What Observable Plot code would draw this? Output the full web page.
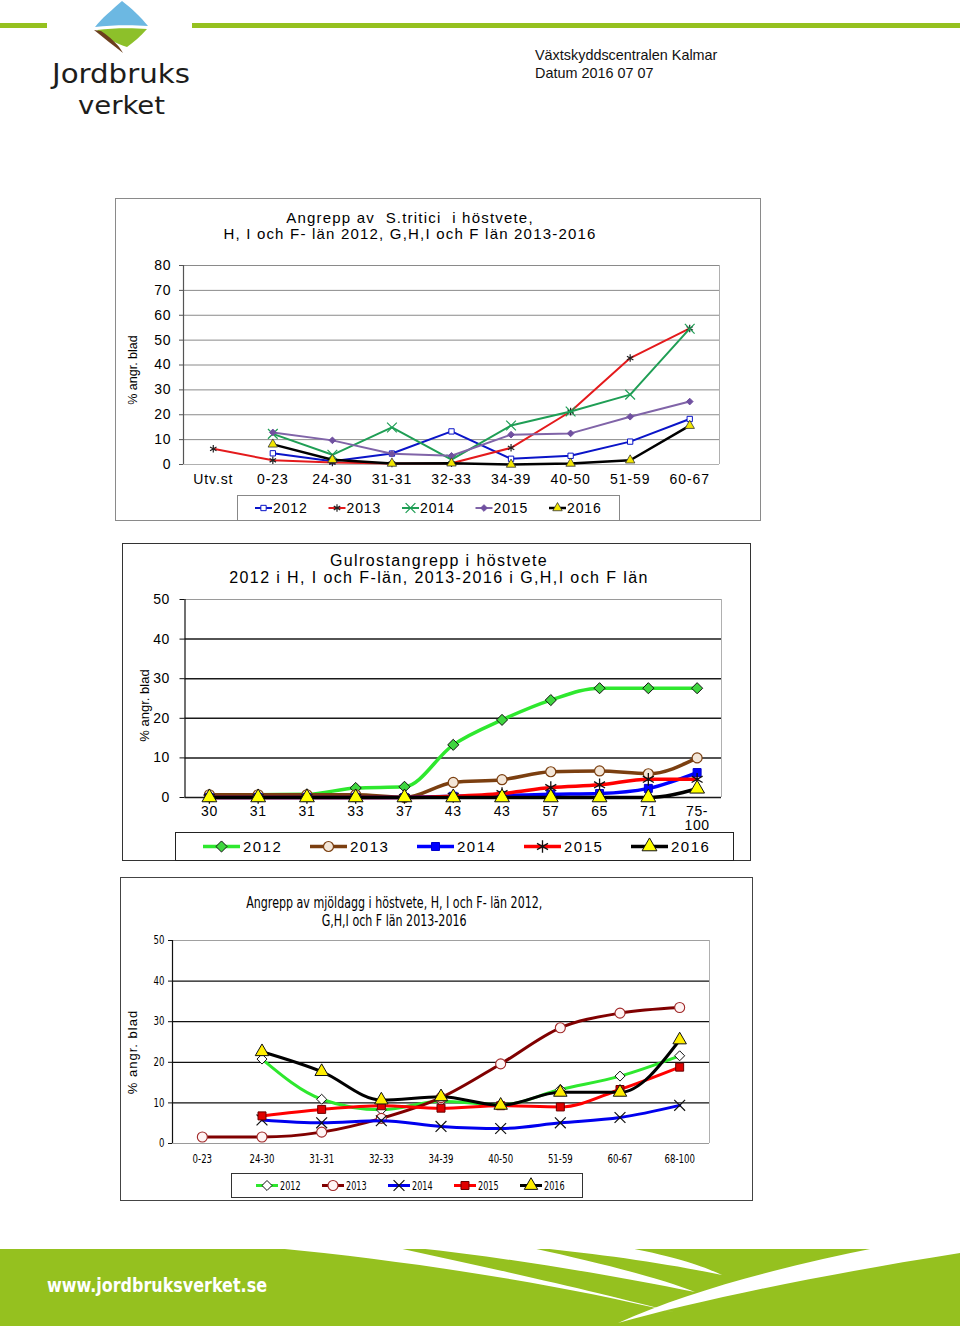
<!DOCTYPE html>
<html><head><meta charset="utf-8">
<script src="https://cdn.jsdelivr.net/npm/d3@7"></script>
<script src="https://cdn.jsdelivr.net/npm/@observablehq/plot@0.6"></script>
<style>
html,body{margin:0;padding:0;background:#fff;}
body{width:960px;height:1326px;position:relative;overflow:hidden;font-family:"Liberation Sans",Arial,sans-serif;color:#000;}
.abs{position:absolute;}
svg{overflow:visible;}
</style></head><body>
<script>
// ---------------- DATA ----------------
const years = ["2012", "2013", "2014", "2015", "2016"];

// Chart 1: Angrepp av S.tritici i höstvete
const septoriaStages = ["Utv.st", "0-23", "24-30", "31-31", "32-33", "34-39", "40-50", "51-59", "60-67"];
const septoria2012 = [null, 4.5, 1.3, 4.4, 13.3, 2.3, 3.5, 9.2, 18.3];
const septoria2013 = [6.3, 1.7, 0.8, 0.4, 0.5, 6.7, 21.3, 42.8, 54.7];
const septoria2014 = [null, 12.3, 3.9, 14.9, 2.0, 15.7, 21.3, 28.1, 54.6];
const septoria2015 = [null, 12.9, 9.7, 4.3, 3.5, 12.0, 12.5, 19.2, 25.3];
const septoria2016 = [null, 8.1, 1.9, 0.4, 0.5, 0.0, 0.4, 1.7, 15.6];

// Chart 2: Gulrostangrepp i höstvete
const rustStages = ["30", "31", "31", "33", "37", "43", "43", "57", "65", "71", "75-\n100"];
const rust2012 = [0.6, 0.7, 0.8, 2.4, 2.7, 13.3, 19.6, 24.6, 27.6, 27.6, 27.6];
const rust2013 = [0.7, 0.7, 0.7, 0.7, 0.0, 3.8, 4.5, 6.5, 6.7, 6.0, 10.0];
const rust2014 = [0.0, 0.0, 0.0, 0.0, 0.0, 0.3, 0.5, 0.8, 1.0, 2.3, 6.3];
const rust2015 = [0.0, 0.0, 0.0, 0.0, 0.0, 0.3, 1.0, 2.5, 3.2, 4.6, 4.6];
const rust2016 = [0.0, 0.0, 0.0, 0.0, 0.0, 0.0, 0.0, 0.0, 0.0, 0.0, 2.2];

// Chart 3: Angrepp av mjöldagg i höstvete
const mildewStages = ["0-23", "24-30", "31-31", "32-33", "34-39", "40-50", "51-59", "60-67", "68-100"];
const mildew2012 = [null, 20.8, 10.9, 8.3, 10.4, 9.5, 13.3, 16.6, 21.6];
const mildew2013 = [1.6, 1.6, 2.8, 6.2, 11.3, 19.6, 28.5, 32.1, 33.5];
const mildew2014 = [null, 5.8, 5.1, 5.6, 4.2, 3.7, 5.1, 6.4, 9.4];
const mildew2015 = [null, 6.8, 8.4, 9.3, 8.7, 9.3, 9.0, 13.3, 18.8];
const mildew2016 = [null, 22.6, 17.7, 10.7, 11.5, 9.4, 12.6, 12.6, 25.5];

const yLabel = "% angr. blad";
const title1 = ["Angrepp av  S.tritici  i höstvete,", "H, I och F- län 2012, G,H,I och F län 2013-2016"];
const title2 = ["Gulrostangrepp i höstvete", "2012 i H, I och F-län, 2013-2016 i G,H,I och F län"];
const title3 = ["Angrepp av mjöldagg i höstvete, H, I och F- län 2012,", "G,H,I och F län 2013-2016"];

// ---------------- HELPERS ----------------
const SANS = '"Liberation Sans", Arial, sans-serif';
const NARROW = '"DejaVu Sans Condensed", "Liberation Sans Narrow", sans-serif';
const root = document.body;

function el(tag, css, parent = root) {
  const e = document.createElement(tag);
  Object.assign(e.style, css);
  parent.appendChild(e);
  return e;
}

const symbolMap = {
  square: d3.symbolSquare, asterisk: d3.symbolAsterisk, times: d3.symbolTimes,
  diamond: d3.symbolDiamond, diamond2: d3.symbolDiamond2, triangle: d3.symbolTriangle,
  circle: d3.symbolCircle
};

function drawChart(cfg) {
  const n = cfg.cats.length;
  const data = years.flatMap((yr, s) => cfg.series[s].map((v, i) => ({i, v, year: yr})).filter(d => d.v != null));
  const marks = [
    Plot.ruleY(d3.range(10, cfg.ymax, 10), {stroke: cfg.gridColor, strokeWidth: cfg.gridWidth}),
    Plot.ruleY([cfg.ymax], {stroke: cfg.topColor, strokeWidth: cfg.topWidth}),
    Plot.ruleY([0], {stroke: cfg.baseColor, strokeWidth: cfg.baseWidth}),
    Plot.ruleX([n - 0.5], {stroke: cfg.frameColor, strokeWidth: 1}),
    Plot.ruleX([-0.5], {stroke: cfg.axisColor, strokeWidth: 1.2}),
    Plot.axisY(d3.range(0, cfg.ymax + 1, 10), {tickSize: cfg.yTickSize, tickPadding: cfg.yTickPadding, label: null, stroke: cfg.axisColor, fontSize: cfg.tickFont}),
    Plot.axisX(d3.range(n), {tickFormat: i => cfg.cats[i], tickSize: 0, tickPadding: cfg.xTickPadding, label: null, fontSize: cfg.tickFont, lineHeight: 1.0}),
    Plot.text([yLabel], {frameAnchor: "left", textAnchor: "middle", rotate: -90, dx: cfg.ylabelDx, dy: cfg.ylabelDy, fontSize: cfg.ylabelFont, fontFamily: SANS, fill: "#000"})
  ];
  cfg.styles.forEach((st, s) => {
    const d = data.filter(r => r.year === years[s]);
    marks.push(Plot.line(d, {x: "i", y: "v", stroke: st.color, strokeWidth: st.width, curve: cfg.curve}));
    marks.push(Plot.dot(d, {x: "i", y: "v", symbol: () => st.symbol, r: st.r, fill: st.fill, stroke: st.mstroke, strokeWidth: st.msw}));
  });
  const plot = Plot.plot({
    width: cfg.width, height: cfg.height,
    marginLeft: cfg.mL, marginRight: cfg.mR, marginTop: cfg.mT, marginBottom: cfg.mB,
    style: {fontFamily: cfg.family, fontSize: cfg.tickFont + "px", color: "#000", background: "transparent", overflow: "visible"},
    x: {type: "linear", domain: [-0.5, n - 0.5]},
    y: {type: "linear", domain: [0, cfg.ymax]},
    marks
  });
  // text fine tuning: widen / narrow tick labels like the stretched original
  d3.select(plot).selectAll("text").each(function () {
    const t = d3.select(this);
    if (this.textContent === yLabel) {
      t.style("letter-spacing", (cfg.ylabelSpacing || 0) + "px");
      return;
    }
    if (cfg.tickSpacing) t.style("letter-spacing", cfg.tickSpacing + "px");
    if (cfg.tickScale && cfg.tickScale !== 1) {
      const tr = this.getAttribute("transform");
      if (tr) t.attr("transform", tr + ` scale(${cfg.tickScale},1)`);
      else {
        const x = +this.getAttribute("x") || 0;
        t.attr("transform", `translate(${x},0) scale(${cfg.tickScale},1) translate(${-x},0)`);
      }
    }
  });
  const wrap = el("div", {position: "absolute", left: cfg.left + "px", top: cfg.top + "px"});
  wrap.appendChild(plot);
}

function drawLegend(cfg) {
  const box = el("div", {position: "absolute", left: cfg.left + "px", top: cfg.top + "px", width: cfg.w + "px", height: cfg.h + "px", border: "1px solid " + cfg.border, boxSizing: "border-box", background: "#fff"});
  const svg = d3.select(box).append("svg").attr("width", cfg.w).attr("height", cfg.h).style("position", "absolute").style("left", "-1px").style("top", "-1px");
  const cy = cfg.h / 2;
  years.forEach((yr, s) => {
    const st = cfg.styles[s];
    const x0 = cfg.x0 + s * cfg.step;
    svg.append("line").attr("x1", x0).attr("x2", x0 + cfg.lineLen).attr("y1", cy).attr("y2", cy)
      .attr("stroke", st.color).attr("stroke-width", st.width);
    svg.append("path").attr("transform", `translate(${x0 + cfg.lineLen / 2},${cy})`)
      .attr("d", d3.symbol().type(symbolMap[st.symbol]).size(st.r * st.r * Math.PI)())
      .attr("fill", st.fill).attr("stroke", st.mstroke).attr("stroke-width", st.msw);
    svg.append("text").attr("transform", `translate(${x0 + cfg.lineLen + cfg.textGap},${cy}) scale(${cfg.textScale || 1},1)`).attr("dy", "0.36em")
      .attr("font-family", cfg.family).attr("font-size", cfg.font).style("letter-spacing", (cfg.spacing || 0) + "px").attr("fill", "#000").text(yr);
  });
}

function drawTitle(lines, cx, top, lh, font, family, spacing, scaleX) {
  const d = el("div", {position: "absolute", left: (cx - 300) + "px", width: "600px", top: top + "px", textAlign: "center", whiteSpace: "pre", fontFamily: family, fontSize: font + "px", lineHeight: lh + "px", letterSpacing: (spacing || 0) + "px", color: "#000"});
  lines.forEach(line => {
    const row = el("div", {height: lh + "px"}, d);
    const sp = el("span", {display: "inline-block", transform: `scaleX(${scaleX || 1})`, transformOrigin: "center"}, row);
    sp.textContent = line;
  });
}

// ---------------- HEADER ----------------
root.insertAdjacentHTML("beforeend", `
<svg class="abs" style="left:0;top:0" width="960" height="120">
  <rect x="0" y="23" width="47" height="5" fill="#95c11f"/>
  <rect x="192" y="23" width="768" height="5" fill="#95c11f"/>
  <path d="M122,1 C113,9 101,19 95,27 C112,25 132,25 148,26 C141,17 131,8 122,1 Z" fill="#6cb8e2"/>
  <path d="M97,30 C113,28 132,28 147,29 C141,36 134,42 127,47 C117,44 106,38 97,30 Z" fill="#8dc02a"/>
  <path d="M94,30 C104,38 114,46 123,53 C118,44 110,37 101,31 Z" fill="#6b3e1d"/>
  <text x="52" y="83" font-family="DejaVu Sans Condensed, sans-serif" font-size="27" fill="#1d1d1b" textLength="138" lengthAdjust="spacingAndGlyphs">Jordbruks</text>
  <text x="78" y="114" font-family="DejaVu Sans Condensed, sans-serif" font-size="25" fill="#1d1d1b" textLength="87" lengthAdjust="spacingAndGlyphs">verket</text>
</svg>
<div class="abs" style="left:535px;top:46px;font-size:14.4px;line-height:18px;color:#111;">Växtskyddscentralen Kalmar<br>Datum 2016 07 07</div>
`);

// ---------------- CHART 1 ----------------
const st1 = [
  {color: "#0a14c8", width: 2, symbol: "square", r: 3, fill: "#fff", mstroke: "#0a14c8", msw: 1},
  {color: "#e41a1c", width: 2, symbol: "asterisk", r: 3.5, fill: "none", mstroke: "#222", msw: 1.2},
  {color: "#1f9e55", width: 2, symbol: "times", r: 4.5, fill: "none", mstroke: "#1f9e55", msw: 1.2},
  {color: "#8064a8", width: 2, symbol: "diamond2", r: 3, fill: "#7050a0", mstroke: "#7050a0", msw: 1},
  {color: "#000", width: 2.5, symbol: "triangle", r: 3.5, fill: "#f2e600", mstroke: "#333", msw: 0.8}
];
el("div", {position: "absolute", left: "115px", top: "198px", width: "646px", height: "323px", border: "1px solid #8a8a8a", boxSizing: "border-box"});
drawTitle(title1, 410, 210, 16, 15, SANS, 1.2);
drawChart({
  cats: septoriaStages, series: [septoria2012, septoria2013, septoria2014, septoria2015, septoria2016],
  left: 115, top: 255, width: 645, height: 235, mL: 68, mR: 41, mT: 10, mB: 26,
  ymax: 80, gridColor: "#8a8a8a", gridWidth: 1, topColor: "#8a8a8a", topWidth: 1, baseColor: "#b0b0b0", baseWidth: 1.2,
  frameColor: "#b0b0b0", axisColor: "#555", yTickSize: 4, yTickPadding: 8, xTickPadding: 10,
  tickFont: 14, tickSpacing: 0.9, family: SANS, ylabelDx: -51, ylabelDy: 5, ylabelFont: 12.5, curve: "linear", styles: st1
});
drawLegend({left: 237, top: 495, w: 383, h: 26, border: "#888", x0: 18, step: 73.5, lineLen: 17, textGap: 1, font: 14, spacing: 0.9, family: SANS, styles: st1});

// ---------------- CHART 2 ----------------
const st2 = [
  {color: "#2ee82e", width: 3.5, symbol: "diamond2", r: 5, fill: "#3fd63f", mstroke: "#111", msw: 1},
  {color: "#7b3f10", width: 3.5, symbol: "circle", r: 5, fill: "#f3e6d8", mstroke: "#7b3f10", msw: 1.2},
  {color: "#0000ff", width: 3.5, symbol: "square", r: 4.5, fill: "#0000ff", mstroke: "#0000cc", msw: 1},
  {color: "#ff0000", width: 3.5, symbol: "asterisk", r: 6, fill: "none", mstroke: "#111", msw: 1.3},
  {color: "#000000", width: 3.5, symbol: "triangle", r: 5.5, fill: "#ffff00", mstroke: "#111", msw: 1}
];
el("div", {position: "absolute", left: "122px", top: "543px", width: "629px", height: "318px", border: "1px solid #333", boxSizing: "border-box"});
drawTitle(title2, 439, 552, 17, 16, SANS, 1.4);
drawChart({
  cats: rustStages, series: [rust2012, rust2013, rust2014, rust2015, rust2016],
  left: 122, top: 585, width: 629, height: 245, mL: 62.5, mR: 30, mT: 14, mB: 33,
  ymax: 50, gridColor: "#1a1a1a", gridWidth: 1.5, topColor: "#9a9a9a", topWidth: 1, baseColor: "#1a1a1a", baseWidth: 1.5,
  frameColor: "#b0b0b0", axisColor: "#111", yTickSize: 5, yTickPadding: 10, xTickPadding: 9,
  tickFont: 14, tickSpacing: 0.6, family: SANS, ylabelDx: -40, ylabelDy: 7, ylabelFont: 13, curve: "monotone-x", styles: st2
});
drawLegend({left: 175, top: 832, w: 559, h: 29, border: "#222", x0: 28, step: 107, lineLen: 37, textGap: 3, font: 15, spacing: 1.5, family: SANS, styles: st2});

// ---------------- CHART 3 ----------------
const st3 = [
  {color: "#2ee82e", width: 3, symbol: "diamond2", r: 4.5, fill: "#fff", mstroke: "#111", msw: 1},
  {color: "#800000", width: 3, symbol: "circle", r: 5, fill: "#fff4f4", mstroke: "#a02828", msw: 1.1},
  {color: "#0000ee", width: 3, symbol: "times", r: 5, fill: "none", mstroke: "#111", msw: 1.2},
  {color: "#ff0000", width: 3, symbol: "square", r: 4.5, fill: "#e00000", mstroke: "#6a0000", msw: 1},
  {color: "#000000", width: 3, symbol: "triangle", r: 5, fill: "#ffee00", mstroke: "#111", msw: 1}
];
el("div", {position: "absolute", left: "120px", top: "877px", width: "633px", height: "324px", border: "1px solid #444", boxSizing: "border-box"});
drawTitle(title3, 394, 894, 18, 16, NARROW, 0, 0.77);
drawChart({
  cats: mildewStages, series: [mildew2012, mildew2013, mildew2014, mildew2015, mildew2016],
  left: 120, top: 930, width: 632, height: 240, mL: 52, mR: 43, mT: 10, mB: 27,
  ymax: 50, gridColor: "#111", gridWidth: 1.2, topColor: "#a0a0a0", topWidth: 1, baseColor: "#9a9a9a", baseWidth: 1.2,
  frameColor: "#b0b0b0", axisColor: "#111", yTickSize: 4, yTickPadding: 4, xTickPadding: 11,
  tickFont: 11.5, tickScale: 0.83, family: NARROW, ylabelDx: -40, ylabelDy: 10, ylabelFont: 13, ylabelSpacing: 1, curve: "monotone-x", styles: st3
});
drawLegend({left: 231, top: 1173, w: 352, h: 25, border: "#333", x0: 25, step: 66, lineLen: 22, textGap: 2, font: 11.5, textScale: 0.78, family: NARROW, styles: st3});

// ---------------- FOOTER ----------------
root.insertAdjacentHTML("beforeend", `
<svg class="abs" style="left:0;top:1240px" width="960" height="86">
  <rect x="0" y="9" width="960" height="77" fill="#95c11f"/>
  <path d="M275,8 L398,8 C500,30 610,55 673,72 C560,45 420,22 275,8 Z" fill="#fff"/>
  <path d="M416,8 L532,8 C610,25 665,40 695,52 C610,35 510,18 416,8 Z" fill="#fff"/>
  <path d="M539,8 L630,8 C680,18 705,27 722,35 C670,24 600,14 539,8 Z" fill="#fff"/>
  <path d="M875,8 L960,8 L960,13 C820,35 700,60 618,83 C690,50 790,25 875,8 Z" fill="#fff"/>
  <text x="47" y="52" font-family="DejaVu Sans Condensed, sans-serif" font-weight="bold" font-size="20" fill="#fff" textLength="220" lengthAdjust="spacingAndGlyphs">www.jordbruksverket.se</text>
</svg>
`);
</script>
</body></html>
